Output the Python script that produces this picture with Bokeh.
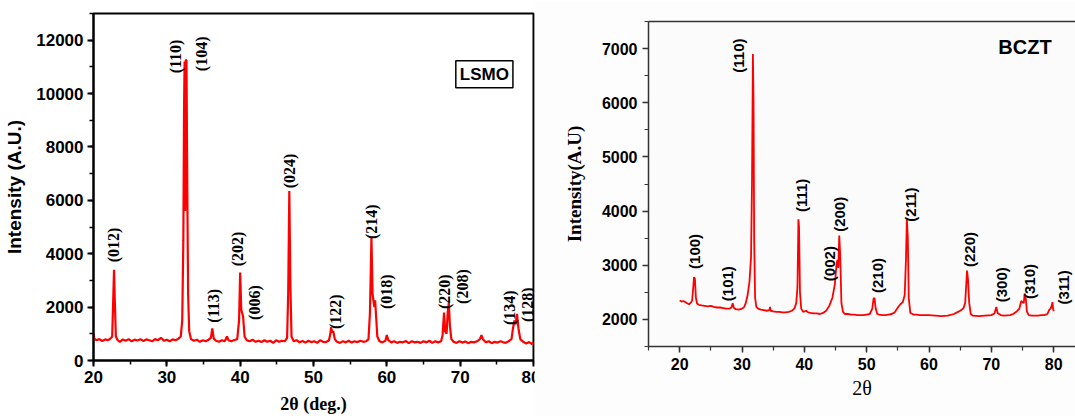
import math
from bokeh.plotting import figure
from bokeh.models import Label, LinearAxis, SingleIntervalTicker, FixedTicker, ColumnDataSource, Range1d
from bokeh.core.properties import value
from bokeh.embed import file_html
from bokeh.resources import INLINE

# ---------------- LSMO data ----------------
lsmo_two_theta = [
    20.0, 20.1, 20.4, 20.8, 21.2, 21.6, 22.0, 22.3, 22.55, 22.7, 22.8, 22.9, 23.05, 23.3, 23.6,
    24.0, 24.4, 24.8, 25.2, 25.6, 26.0, 26.4, 26.8, 27.2, 27.6, 28.0, 28.4, 28.8, 29.2, 29.6,
    30.0, 30.4, 30.8, 31.2, 31.6, 31.9, 32.1, 32.25, 32.35, 32.42, 32.5, 32.58, 32.68, 32.8, 32.9,
    33.05, 33.3, 33.7, 34.1, 34.5, 34.9, 35.3, 35.7, 36.0, 36.2, 36.4, 36.7, 37.1, 37.5, 37.9,
    38.2, 38.4, 38.8, 39.2, 39.6, 39.85, 40.0, 40.15, 40.4, 40.6, 40.9, 41.3, 41.7, 42.1, 42.5,
    42.9, 43.3, 43.7, 44.1, 44.5, 44.9, 45.3, 45.7, 46.1, 46.4, 46.55, 46.7, 46.85, 47.0, 47.3,
    47.7, 48.1, 48.5, 48.9, 49.3, 49.7, 50.1, 50.5, 50.9, 51.3, 51.7, 52.1, 52.3, 52.4, 52.55,
    52.7, 52.9, 53.2, 53.6, 54.0, 54.4, 54.8, 55.2, 55.6, 56.0, 56.4, 56.8, 57.2, 57.5, 57.7,
    57.9, 58.05, 58.3, 58.4, 58.55, 58.7, 59.0, 59.4, 59.8, 60.0, 60.2, 60.6, 61.0, 61.4, 61.8,
    62.2, 62.6, 63.0, 63.4, 63.8, 64.2, 64.6, 65.0, 65.4, 65.8, 66.2, 66.6, 67.0, 67.4, 67.6,
    67.8, 67.95, 68.15, 68.3, 68.45, 68.6, 68.8, 69.1, 69.5, 69.9, 70.3, 70.7, 71.1, 71.5, 71.9,
    72.3, 72.7, 72.9, 73.1, 73.5, 73.9, 74.3, 74.7, 75.1, 75.5, 75.8, 76.2, 76.6, 77.0, 77.2,
    77.4, 77.55, 77.75, 77.95, 78.2, 78.6, 79.0, 79.4, 79.8, 80.0,
]
lsmo_intensity = [
    1000, 820, 760, 800, 730, 790, 760, 820, 900, 2400, 3400, 2300, 900, 760, 700,
    790, 740, 800, 720, 780, 750, 800, 730, 790, 760, 720, 800, 760, 850, 740,
    780, 720, 790, 760, 820, 900, 1500, 4500, 9500, 11200, 5600, 11250, 11250, 6000, 2500,
    1100, 800, 740, 780, 700, 760, 720, 780, 850, 1200, 820, 740, 700, 760, 720,
    900, 760, 720, 770, 800, 1500, 3300, 1900, 1650, 900, 760, 720, 780, 700, 740,
    690, 760, 700, 740, 660, 760, 700, 740, 720, 850, 2500, 6350, 2800, 900, 720,
    760, 680, 730, 670, 740, 690, 720, 660, 760, 700, 690, 750, 1000, 1250, 1050,
    1100, 800, 700, 660, 720, 680, 740, 670, 720, 690, 740, 700, 720, 800, 1800,
    4600, 2500, 2000, 2250, 1600, 900, 720, 680, 740, 950, 760, 680, 720, 660, 700,
    680, 730, 650, 720, 680, 700, 660, 720, 680, 740, 660, 720, 680, 720, 950,
    1800, 1100, 1000, 1800, 2150, 1300, 800, 700, 660, 720, 670, 710, 650, 700, 680,
    720, 800, 950, 800, 680, 720, 650, 700, 670, 720, 690, 660, 720, 800, 1200,
    1500, 1350, 1750, 1200, 800, 700, 640, 690, 620, 680,
]
lsmo_peak_labels = ["(012)", "(110)", "(104)", "(113)", "(202)", "(006)", "(024)", "(122)",
                    "(214)", "(018)", "(220)", "(208)", "(134)", "(128)"]
lsmo_label_x = [22.7, 31.2, 34.7, 36.4, 39.7, 41.9, 46.7, 53.0, 57.9, 60.0, 67.8, 70.3, 76.7, 79.2]
lsmo_label_y = [4330, 11390, 11490, 2050, 4180, 2170, 7100, 1830, 5200, 2580, 2580, 2770, 1980, 2090]

# ---------------- BCZT data ----------------
bczt_two_theta = [
    20.0, 20.3, 20.6, 20.9, 21.2, 21.5, 21.8, 22.0, 22.15, 22.3, 22.45, 22.6, 22.8, 23.1, 23.5,
    24.0, 24.5, 25.0, 25.5, 26.0, 26.5, 27.0, 27.5, 28.0, 28.3, 28.5, 28.7, 29.0, 29.5, 30.0,
    30.3, 30.6, 30.9, 31.2, 31.45, 31.6, 31.75, 31.85, 31.95, 32.1, 32.3, 32.6, 33.0, 33.5, 34.0,
    34.4, 34.5, 34.6, 35.0, 35.5, 36.0, 36.5, 37.0, 37.5, 38.0, 38.4, 38.7, 38.9, 39.05, 39.15,
    39.3, 39.5, 39.8, 40.3, 40.6, 41.0, 41.5, 42.0, 42.5, 43.0, 43.5, 44.0, 44.5, 44.9, 45.15,
    45.3, 45.45, 45.6, 45.75, 45.95, 46.2, 46.5, 47.0, 47.5, 48.0, 48.5, 49.0, 49.5, 50.0, 50.5,
    50.9, 51.1, 51.25, 51.45, 51.7, 52.0, 52.5, 53.0, 53.5, 54.0, 54.5, 55.0, 55.4, 55.8, 56.1,
    56.3, 56.45, 56.6, 56.75, 57.0, 57.5, 58.0, 58.5, 59.0, 60.0, 61.0, 62.0, 63.0, 64.0, 64.5,
    65.0, 65.5, 65.8, 66.0, 66.1, 66.25, 66.45, 66.7, 67.0, 68.0, 69.0, 70.0, 70.5, 70.8, 71.0,
    71.5, 72.0, 73.0, 73.5, 74.0, 74.5, 74.8, 75.0, 75.2, 75.35, 75.5, 75.7, 76.0, 76.5, 77.0,
    77.5, 78.0, 78.5, 79.0, 79.3, 79.5, 79.7, 79.8, 79.9, 80.0,
]
bczt_intensity = [
    2350, 2330, 2340, 2320, 2300, 2280, 2310, 2350, 2550, 2780, 2750, 2400, 2290, 2270, 2260,
    2250, 2240, 2250, 2230, 2220, 2220, 2210, 2200, 2200, 2220, 2300, 2210, 2190, 2180, 2200,
    2220, 2300, 2450, 2700, 3150, 4500, 6900, 6000, 3500, 2400, 2230, 2200, 2180, 2170, 2160,
    2170, 2230, 2160, 2150, 2140, 2140, 2130, 2130, 2140, 2160, 2200, 2300, 2600, 3850, 3700,
    2500, 2200, 2140, 2160, 2130, 2120, 2110, 2110, 2100, 2120, 2160, 2250, 2400, 2650, 3000,
    3100, 2950, 3550, 3200, 2300, 2140, 2100, 2100, 2090, 2090, 2080, 2080, 2080, 2090, 2100,
    2200, 2380, 2400, 2200, 2100, 2090, 2080, 2080, 2090, 2100, 2130, 2220, 2280, 2320, 2450,
    3100, 3850, 3500, 2400, 2120, 2090, 2090, 2080, 2080, 2080, 2070, 2060, 2070, 2100, 2130,
    2160, 2200, 2300, 2700, 2900, 2750, 2300, 2100, 2070, 2060, 2070, 2080, 2110, 2230, 2120,
    2080, 2070, 2080, 2100, 2140, 2200, 2340, 2320, 2300, 2480, 2420, 2150, 2080, 2070, 2070,
    2070, 2080, 2080, 2100, 2180, 2200, 2260, 2320, 2200, 2150,
]
bczt_peak_labels = ["(100)", "(101)", "(110)", "(111)", "(002)", "(200)", "(210)", "(211)",
                    "(220)", "(300)", "(310)", "(311)"]
bczt_label_x = [22.4, 27.7, 29.5, 39.6, 44.1, 45.7, 51.8, 57.1, 66.5, 71.7, 76.2, 81.5]
bczt_label_y = [3255, 2660, 6870, 4290, 3030, 3940, 2810, 4120, 3290, 2640, 2700, 2590]

RED = "#ff0000"

# ---------------- Left panel: LSMO ----------------
p1 = figure(width=540, height=416, output_backend="svg", toolbar_location=None,
            x_range=Range1d(20, 80), y_range=Range1d(0, 13000),
            min_border_left=93, min_border_right=7, min_border_top=13, min_border_bottom=55)
p1.styles = {"position": "absolute", "left": "0px", "top": "0px"}
p1.xgrid.visible = False
p1.ygrid.visible = False
p1.outline_line_color = "black"
p1.outline_line_width = 2
p1.background_fill_color = "white"
p1.border_fill_color = "white"

p1.line(lsmo_two_theta, lsmo_intensity, line_color=RED, line_width=2.2)

src1 = ColumnDataSource(dict(x=lsmo_label_x, y=lsmo_label_y, t=lsmo_peak_labels))
p1.text(x="x", y="y", text="t", source=src1, angle=math.pi / 2,
        text_font=value("Liberation Serif"), text_font_style="bold", text_font_size="16px",
        text_align="center", text_baseline="middle", text_color="black")

p1.add_layout(Label(x=73.3, y=10720, text="LSMO", text_font="Liberation Sans",
                    text_font_style="bold", text_font_size="17px", text_align="center",
                    text_baseline="middle", text_color="black",
                    border_line_color="black", border_line_width=1.5,
                    background_fill_color="white", padding=4))

p1.xaxis.ticker = SingleIntervalTicker(interval=10, num_minor_ticks=2)
p1.yaxis.ticker = SingleIntervalTicker(interval=2000, num_minor_ticks=2)
for ax in (p1.xaxis[0], p1.yaxis[0]):
    ax.axis_line_width = 2
    ax.axis_line_color = "black"
    ax.major_tick_line_width = 2
    ax.minor_tick_line_width = 1.5
    ax.major_tick_in = 0
    ax.major_tick_out = 6
    ax.minor_tick_in = 0
    ax.minor_tick_out = 4
    ax.major_label_text_font = "Liberation Sans"
    ax.major_label_text_font_style = "bold"
    ax.major_label_text_font_size = "17px"
    ax.major_label_text_color = "black"
    ax.major_label_standoff = 4
    ax.axis_label_text_color = "black"
p1.yaxis.axis_label = "Intensity (A.U.)"
p1.yaxis.axis_label_text_font = "Liberation Sans"
p1.yaxis.axis_label_text_font_style = "bold"
p1.yaxis.axis_label_text_font_size = "19px"
p1.yaxis.axis_label_standoff = 8
p1.xaxis.axis_label = "2θ (deg.)"
p1.xaxis.axis_label_text_font = "Liberation Serif"
p1.xaxis.axis_label_text_font_style = "bold"
p1.xaxis.axis_label_text_font_size = "18px"
p1.xaxis.axis_label_standoff = 8

# ---------------- Right panel: BCZT ----------------
p2 = figure(width=541, height=416, output_backend="svg", toolbar_location=None,
            x_range=Range1d(15, 83.5), y_range=Range1d(1500, 7500),
            min_border_left=114, min_border_right=0, min_border_top=21, min_border_bottom=70)
p2.styles = {"position": "absolute", "left": "534px", "top": "0px"}
p2.xgrid.visible = False
p2.ygrid.visible = False
p2.outline_line_color = None
p2.background_fill_color = "#fbfbfb"
p2.border_fill_color = "#fdfdfd"

bx = p2.xaxis[0]
by = p2.yaxis[0]

p2.line(bczt_two_theta, bczt_intensity, line_color=RED, line_width=1.8)

src2 = ColumnDataSource(dict(x=bczt_label_x, y=bczt_label_y, t=bczt_peak_labels))
p2.text(x="x", y="y", text="t", source=src2, angle=math.pi / 2,
        text_font=value("Liberation Sans"), text_font_style="bold", text_font_size="15px",
        text_align="center", text_baseline="middle", text_color="black")

p2.add_layout(Label(x=75.4, y=7030, text="BCZT", text_font="Liberation Sans",
                    text_font_style="bold", text_font_size="20px", text_align="center",
                    text_baseline="middle", text_color="black"))

top_axis = LinearAxis(ticker=FixedTicker(ticks=[], minor_ticks=[]), major_label_text_font_size="0px",
                      axis_line_color="#333333", axis_line_width=1.5,
                      major_tick_out=0, minor_tick_out=0, major_label_standoff=0)
p2.add_layout(top_axis, "above")

bx.ticker = SingleIntervalTicker(interval=10, num_minor_ticks=2)
by.ticker = SingleIntervalTicker(interval=1000, num_minor_ticks=2)
for ax in (bx, by):
    ax.axis_line_width = 1.5
    ax.axis_line_color = "#333333"
    ax.major_tick_line_width = 1.5
    ax.minor_tick_line_width = 1.2
    ax.major_tick_line_color = "#333333"
    ax.minor_tick_line_color = "#333333"
    ax.major_tick_in = 0
    ax.major_tick_out = 6
    ax.minor_tick_in = 0
    ax.minor_tick_out = 4
    ax.major_label_text_font = "Liberation Sans"
    ax.major_label_text_font_style = "bold"
    ax.major_label_text_font_size = "16px"
    ax.major_label_text_color = "black"
    ax.major_label_standoff = 5
    ax.axis_label_text_color = "black"
by.axis_label = "Intensity(A.U)"
by.axis_label_text_font = "Liberation Serif"
by.axis_label_text_font_style = "bold"
by.axis_label_text_font_size = "19px"
by.axis_label_standoff = 14
bx.axis_label = "2θ"
bx.axis_label_text_font = "Liberation Serif"
bx.axis_label_text_font_style = "normal"
bx.axis_label_text_font_size = "20px"
bx.axis_label_standoff = 4

# Two independent roots, each positioned on the page (no frame alignment between panels)
open("out.html", "w").write(file_html([p1, p2], INLINE))
